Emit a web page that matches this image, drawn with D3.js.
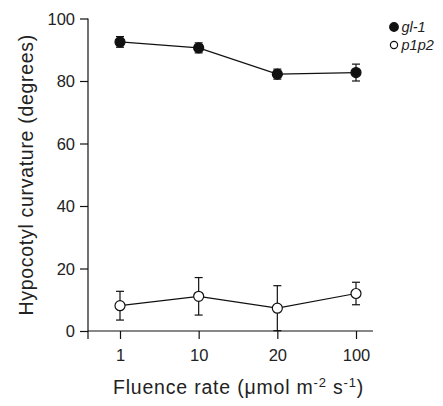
<!DOCTYPE html>
<html><head><meta charset="utf-8">
<script src="https://cdn.jsdelivr.net/npm/d3@7"></script>
<style>body{margin:0;background:#fff}svg{display:block}text{font-family:"Liberation Sans",Arial,sans-serif;fill:#222}</style>
</head><body>
<svg id="c" width="443" height="406"></svg>
<script>
const categories = ["1", "10", "20", "100"];
const gl1Values = [92.5, 90.6, 82.2, 82.7];
const gl1Errors = [1.7, 1.6, 1.6, 2.7];
const p1p2Values = [8.1, 11.1, 7.3, 12.0];
const p1p2Errors = [4.6, 6.0, 7.2, 3.6];
const yTicks = [0, 20, 40, 60, 80, 100];
const seriesNames = ["gl-1", "p1p2"];

const svg = d3.select("#c");
const x = d3.scaleLinear().domain([0, 3]).range([120, 356]);
const y = d3.scaleLinear().domain([0, 100]).range([331, 18.5]);
const col = "#111";

// axes
const yAxis = d3.axisLeft(y).tickValues(yTicks).tickSize(8).tickSizeOuter(0);
const gy = svg.append("g").attr("transform", "translate(88,0)").call(yAxis);
gy.select(".domain").remove();
gy.append("line").attr("x1", 0).attr("x2", 0).attr("y1", y(100)).attr("y2", y(0)).attr("stroke", col).attr("stroke-width", 1.2);
gy.selectAll(".tick line").attr("stroke", col).attr("stroke-width", 1.2);
gy.selectAll(".tick text").attr("font-size", 16.5).attr("x", -13).attr("dy", "0.35em").style("fill", "#222");

const xAxis = d3.axisBottom(x).tickValues([0, 1, 2, 3]).tickFormat(i => categories[i]).tickSize(8).tickSizeOuter(0);
const gx = svg.append("g").attr("transform", `translate(0,${y(0)})`).call(xAxis);
gx.select(".domain").remove();
gx.append("line").attr("x1", 88).attr("x2", 373).attr("y1", 0).attr("y2", 0).attr("stroke", col).attr("stroke-width", 1.2);
gx.append("line").attr("x1", 88).attr("x2", 88).attr("y1", 0).attr("y2", 8).attr("stroke", col).attr("stroke-width", 1.2);
gx.selectAll(".tick line").attr("stroke", col).attr("stroke-width", 1.2);
gx.selectAll(".tick text").attr("font-size", 16.5).attr("y", 18).attr("dy", "0.71em").style("fill", "#222");

// titles
svg.append("text").attr("transform", `translate(33,${(y(0)+y(100))/2}) rotate(-90)`)
  .attr("text-anchor", "middle").attr("font-size", 19.5).attr("letter-spacing", 0.7)
  .text("Hypocotyl curvature (degrees)");
const xt = svg.append("text").attr("x", 238.5).attr("y", 394).attr("text-anchor", "middle")
  .attr("font-size", 19.5).attr("letter-spacing", 0.8);
xt.append("tspan").text("Fluence rate (μmol m");
xt.append("tspan").attr("dy", -7).attr("font-size", 13).text("-2");
xt.append("tspan").attr("dy", 7).text(" s");
xt.append("tspan").attr("dy", -7).attr("font-size", 13).text("-1");
xt.append("tspan").attr("dy", 7).text(")");

function drawSeries(vals, errs, filled) {
  const g = svg.append("g");
  const line = d3.line().x((d, i) => x(i)).y(d => y(d));
  g.append("path").datum(vals).attr("d", line).attr("fill", "none").attr("stroke", col).attr("stroke-width", 1.2);
  vals.forEach((v, i) => {
    const cx = x(i), top = y(v + errs[i]), bot = y(Math.max(0, v - errs[i]));
    g.append("line").attr("x1", cx).attr("x2", cx).attr("y1", top).attr("y2", bot).attr("stroke", col).attr("stroke-width", 1.2);
    [top, bot].forEach(yy => g.append("line").attr("x1", cx - 4).attr("x2", cx + 4).attr("y1", yy).attr("y2", yy).attr("stroke", col).attr("stroke-width", 1.2));
  });
  g.selectAll("circle").data(vals).join("circle")
    .attr("cx", (d, i) => x(i)).attr("cy", d => y(d)).attr("r", 5)
    .attr("fill", filled ? col : "#fff").attr("stroke", col).attr("stroke-width", 1.2);
}
drawSeries(p1p2Values, p1p2Errors, false);
drawSeries(gl1Values, gl1Errors, true);

// legend
seriesNames.forEach((n, i) => {
  const ly = 27 + i * 18;
  svg.append("circle").attr("cx", 394).attr("cy", ly).attr("r", i === 0 ? 4.3 : 3.6)
    .attr("fill", i === 0 ? col : "#fff").attr("stroke", col).attr("stroke-width", 1.2);
  svg.append("text").attr("x", 401.5).attr("y", ly).attr("dy", "0.35em").attr("font-size", 14.5)
    .attr("font-style", "italic").text(n);
});
</script>
</body></html>
